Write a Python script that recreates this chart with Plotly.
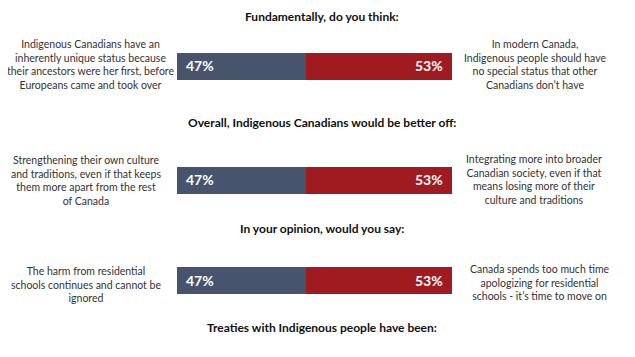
import plotly.graph_objects as go

questions = [
    "Fundamentally, do you think:",
    "Overall, Indigenous Canadians would be better off:",
    "In your opinion, would you say:",
    "Treaties with Indigenous people have been:",
]
left_labels = [
    "Indigenous Canadians have an<br>inherently unique status because<br>their ancestors were her first, before<br>Europeans came and took over",
    "Strengthening their own culture<br>and traditions, even if that keeps<br>them more apart from the rest<br>of Canada",
    "The harm from residential<br>schools continues and cannot be<br>ignored",
]
right_labels = [
    "In modern Canada,<br>Indigenous people should have<br>no special status that other<br>Canadians don’t have",
    "Integrating more into broader<br>Canadian society, even if that<br>means losing more of their<br>culture and traditions",
    "Canada spends too much time<br>apologizing for residential<br>schools - it’s time to move on",
]
left_values = [47, 47, 47]
right_values = [53, 53, 53]

BLUE = "#46546D"
RED = "#9F1B20"
W, H = 635, 357
FONT = "Lato"
OFF = 8  # page body margin of the browser

# layout positions (window pixels from top-left)
bar_centers = [65.5, 179.5, 280]
title_centers = [16, 123, 228, 327]
left_centers = [(90, 65), (86, 180), (86, 284)]
right_centers = [(535, 65), (534, 179), (540, 282)]

px_per_pct = 2.75
center_px = 306 - OFF
xrange = [-center_px / px_per_pct, (W - center_px) / px_per_pct]

fig = go.Figure()
dom_half = 20  # px
bar_px = 27
anns = []
for i in range(3):
    ya = "y" if i == 0 else f"y{i+1}"
    fig.add_trace(go.Bar(
        y=[0], x=[left_values[i]], base=[-left_values[i]], orientation="h",
        marker=dict(color=BLUE, line=dict(width=0)), width=bar_px / (2 * dom_half),
        xaxis="x", yaxis=ya, showlegend=False, hoverinfo="skip",
    ))
    fig.add_trace(go.Bar(
        y=[0], x=[right_values[i]], base=[0], orientation="h",
        marker=dict(color=RED, line=dict(width=0)), width=bar_px / (2 * dom_half),
        xaxis="x", yaxis=ya, showlegend=False, hoverinfo="skip",
    ))
    anns.append(dict(text=f"<b>{left_values[i]}%</b>", x=-left_values[i], y=0, xref="x", yref=ya,
                     xanchor="left", yanchor="middle", xshift=7, showarrow=False,
                     font=dict(size=14, color="white", family=FONT)))
    anns.append(dict(text=f"<b>{right_values[i]}%</b>", x=right_values[i], y=0, xref="x", yref=ya,
                     xanchor="right", yanchor="middle", xshift=-7, showarrow=False,
                     font=dict(size=14, color="white", family=FONT)))

layout = dict(
    width=W, height=H, margin=dict(l=0, r=0, t=0, b=0),
    paper_bgcolor="white", plot_bgcolor="white",
    barmode="overlay", bargap=0,
    xaxis=dict(range=xrange, visible=False, fixedrange=True),
)
for i, c in enumerate(bar_centers):
    yc = 1 - (c - OFF) / H
    d = dom_half / H
    key = "yaxis" if i == 0 else f"yaxis{i+1}"
    layout[key] = dict(domain=[yc - d, yc + d], range=[-0.5, 0.5], visible=False, fixedrange=True)
    if i > 0:
        layout[key]["anchor"] = "x"
fig.update_layout(**layout)

for q, t in zip(questions, title_centers):
    anns.append(dict(text=f"<b>{q}</b>", x=(322 - OFF) / W, y=1 - (t - OFF) / H, xref="paper", yref="paper",
                     xanchor="center", yanchor="middle", showarrow=False,
                     font=dict(size=12, color="#111111", family=FONT)))
for lab, (cx, cy) in zip(left_labels, left_centers):
    anns.append(dict(text=lab, x=(cx - OFF) / W, y=1 - (cy - OFF) / H, xref="paper", yref="paper",
                     xanchor="center", yanchor="middle", align="center", showarrow=False,
                     font=dict(size=10.5, color="#333333", family=FONT)))
for lab, (cx, cy) in zip(right_labels, right_centers):
    anns.append(dict(text=lab, x=(cx - OFF) / W, y=1 - (cy - OFF) / H, xref="paper", yref="paper",
                     xanchor="center", yanchor="middle", align="center", showarrow=False,
                     font=dict(size=10.5, color="#333333", family=FONT)))
fig.update_layout(annotations=anns)

fig.write_html("out.html")
